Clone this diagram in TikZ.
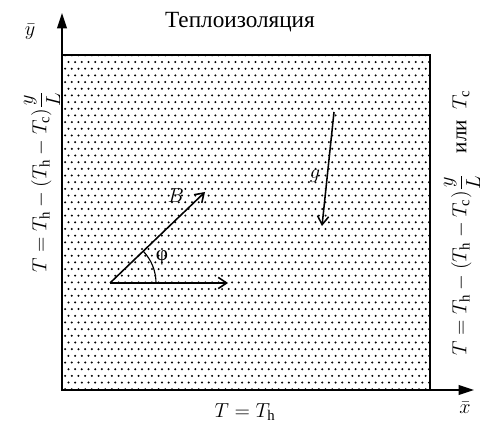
\documentclass[tikz,border=0pt]{standalone}
\usepackage{amsmath}
\usepackage{fontspec}
\setmainfont{Liberation Serif}
\usepackage{tikz}
\usetikzlibrary{arrows.meta,patterns,calc}

\pgfdeclarepatternformonly{fine dots}{\pgfqpoint{-1pt}{-1pt}}{\pgfqpoint{5.75pt}{10.5pt}}{\pgfqpoint{4.75pt}{9.5pt}}{%
  \pgfpathcircle{\pgfqpoint{1.2pt}{2.4pt}}{0.8pt}%
  \pgfpathcircle{\pgfqpoint{3.575pt}{7.15pt}}{0.8pt}%
  \pgfusepath{fill}}

\tikzset{
  lbl/.style={font=\fontsize{15}{18}\selectfont, inner sep=1pt},
  axis/.style={line width=1.1pt, -{Triangle[length=11pt,width=7pt]}},
  vec/.style={line width=1.1pt, -{Straight Barb[length=6pt,width=8pt]}}
}

\begin{document}
\begin{tikzpicture}
  \useasboundingbox (0,0) rectangle (12.125,10.65);
  % Cavity
  \coordinate (O) at (1.55,0.9);
  \coordinate (TR) at (10.75,9.275);
  \draw[line width=1.1pt, pattern=fine dots] (O) rectangle (TR);

  % Axes
  \coordinate (ytip) at (1.55,10.325);
  \coordinate (xtip) at (11.85,0.9);
  \draw[axis] (O) -- (ytip);
  \draw[axis] (O) -- (xtip);
  \node[lbl] (ylab) at (0.75,9.85) {$\bar{y}$};
  \node[lbl] (xlab) at (11.625,0.45) {$\bar{x}$};

  % Boundary conditions
  \node[lbl, font=\fontsize{16.5}{19}\selectfont] (top) at (6.0,10.1) {Теплоизоляция};
  \node[lbl] (bottom) at (6.125,0.35) {$T = T_{\mathrm{h}}$};
  \node[lbl, rotate=90] (left) at (1.05,6.1)
    {$\displaystyle T = T_{\mathrm{h}} - (T_{\mathrm{h}} - T_{\mathrm{c}})\frac{y}{L}$};
  \node[lbl, rotate=90] (right) at (11.55,5.075)
    {$\displaystyle T = T_{\mathrm{h}} - (T_{\mathrm{h}} - T_{\mathrm{c}})\frac{y}{L}$\quad или\ \ $T_{\mathrm{c}}$};

  % Magnetic field B and angle
  \coordinate (P) at (2.75,3.575);
  \coordinate (Btip) at (5.125,5.85);
  \coordinate (Htip) at (5.7,3.575);
  \draw[vec] (P) -- (Btip);
  \draw[vec] (P) -- (Htip);
  \draw[line width=0.8pt] ($(P)+(1.15,0)$) arc[start angle=0, end angle=44, radius=1.15];
  \node[lbl] (B) at (4.4,5.75) {$B$};
  \node[lbl] (phi) at (4.05,4.2) {φ};

  % Gravity
  \coordinate (gtop) at (8.35,7.85);
  \coordinate (gbot) at (8.05,5.0);
  \draw[vec] (gtop) -- (gbot);
  \node[lbl] (g) at (7.875,6.25) {$g$};
\end{tikzpicture}
\end{document}
